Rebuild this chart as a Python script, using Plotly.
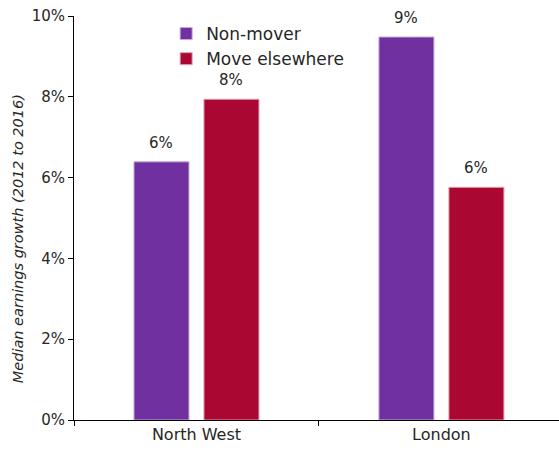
import plotly.graph_objects as go

categories = ["North West", "London"]
non_mover = [6.39, 9.48]
move_elsewhere = [7.94, 5.76]
series_names = ["Non-mover", "Move elsewhere"]
y_ticks = [0, 2, 4, 6, 8, 10]
y_tick_labels = ["0%", "2%", "4%", "6%", "8%", "10%"]
y_title = "Median earnings growth (2012 to 2016)"

FONT = "DejaVu Sans"
TXT = "#262626"

fig = go.Figure()
fig.add_trace(go.Bar(
    x=categories, y=non_mover, name=series_names[0],
    marker=dict(color="#7030A0", line=dict(color="#c8a9dc", width=1)),
))
fig.add_trace(go.Bar(
    x=categories, y=move_elsewhere, name=series_names[1],
    marker=dict(color="#AA0733", line=dict(color="#e0a0b0", width=1)),
))

# value labels above each bar (offset to the bar's slot within the group)
for series, shift in ((non_mover, -35), (move_elsewhere, 35)):
    for cat, val in zip(categories, series):
        fig.add_annotation(
            x=cat, y=val, text=f"{val:.0f}%", showarrow=False,
            xshift=shift, yshift=8, yanchor="bottom",
            font=dict(family=FONT, size=15, color=TXT),
        )

# y-axis title (placed slightly below plot centre, as in the reference)
fig.add_annotation(
    xref="paper", yref="paper", x=-0.115, y=0.448, text=f"<i>{y_title}</i>",
    textangle=-90, showarrow=False, xanchor="center", yanchor="middle",
    font=dict(family=FONT, size=14.5, color=TXT),
)

fig.update_layout(
    width=559, height=454,
    margin=dict(l=74, r=0, t=16, b=34),
    paper_bgcolor="white", plot_bgcolor="white",
    barmode="group", bargap=0.4286, bargroupgap=0.214,
    font=dict(family=FONT, size=14, color=TXT),
    showlegend=True,
    legend=dict(x=0.19, y=1.0, xanchor="left", yanchor="top",
                font=dict(family=FONT, size=17, color=TXT),
                bgcolor="rgba(0,0,0,0)", tracegroupgap=0, itemwidth=30),
    xaxis=dict(
        range=[-0.5, 1.48], showline=True, linecolor="#000000", linewidth=1,
        ticks="outside", tickson="boundaries", ticklen=5, tickcolor="#000000",
        tickfont=dict(family=FONT, size=16, color=TXT), showgrid=False,
    ),
    yaxis=dict(
        range=[0, 10], tickvals=y_ticks, ticktext=y_tick_labels,
        showline=True, linecolor="#000000", linewidth=1,
        ticks="outside", ticklen=5, tickcolor="#000000",
        tickfont=dict(family=FONT, size=15, color=TXT), showgrid=False,
        zeroline=False,
    ),
)

fig.write_html("out.html")
